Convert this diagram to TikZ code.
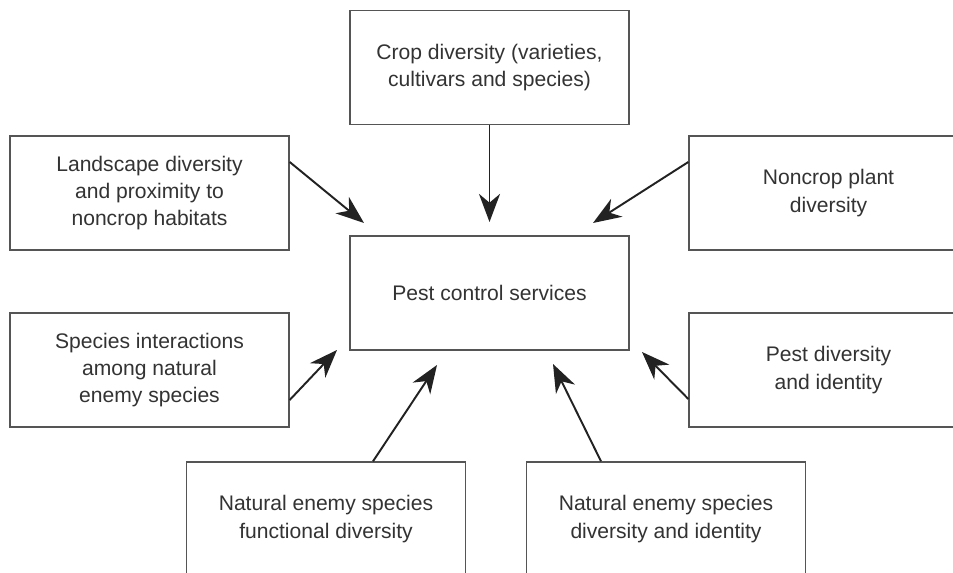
\documentclass[tikz,border=0pt]{standalone}
\usepackage{fontspec}
\setmainfont{Liberation Sans}
\usetikzlibrary{arrows.meta,calc}
\definecolor{boxline}{HTML}{555555}
\definecolor{txt}{HTML}{333333}
\definecolor{arr}{HTML}{222222}
\tikzset{
  box/.style={draw=boxline, line width=0.8pt, rectangle, inner sep=0pt,
    minimum width=5.58cm, minimum height=2.28cm, align=center,
    text=txt, font=\fontsize{12}{15.5}\selectfont},
  flow/.style={draw=arr, line width=1.1pt, -{Stealth[length=16pt,width=12pt,inset=5pt]}}
}
\begin{document}
\begin{tikzpicture}[x=0.02cm, y=-0.02cm]
\useasboundingbox (0,0) rectangle (953,573);
\fill[white] (0,0) rectangle (953,573);
\clip (0,0) rectangle (953,573);
\node[box] (crop)    at (489.5,67.5) {Crop diversity (varieties,\\cultivars and species)};
\node[box] (land)    at (149.5,193)  {Landscape diversity\\and proximity to\\noncrop habitats};
\node[box] (noncrop) at (828.5,193)  {Noncrop plant\\diversity};
\node[box] (pcs)     at (489.5,293)  {Pest control services};
\node[box] (species) at (149.5,370)  {Species interactions\\among natural\\enemy species};
\node[box] (pestdiv) at (828.5,370)  {Pest diversity\\and identity};
\node[box] (func)    at (326,519)    {Natural enemy species\\functional diversity};
\node[box] (natdiv)  at (666,519)    {Natural enemy species\\diversity and identity};
\coordinate (t1) at (489.5,222);
\coordinate (t2) at (364,223);
\coordinate (t3) at (593,223);
\coordinate (t4) at (337,350);
\coordinate (t5) at (642,352);
\coordinate (t6) at (437,365);
\coordinate (t7) at (553,364);
\draw[flow] (crop.south) -- (t1);
\draw[flow] ($(land.east)+(0,-31)$) -- (t2);
\draw[flow] ($(noncrop.west)+(0,-31)$) -- (t3);
\draw[flow] ($(species.east)+(0,30)$) -- (t4);
\draw[flow] ($(pestdiv.west)+(0,29)$) -- (t5);
\draw[flow] ($(func.north)+(47,0)$) -- (t6);
\draw[flow] ($(natdiv.north)+(-65,0)$) -- (t7);
\end{tikzpicture}
\end{document}
